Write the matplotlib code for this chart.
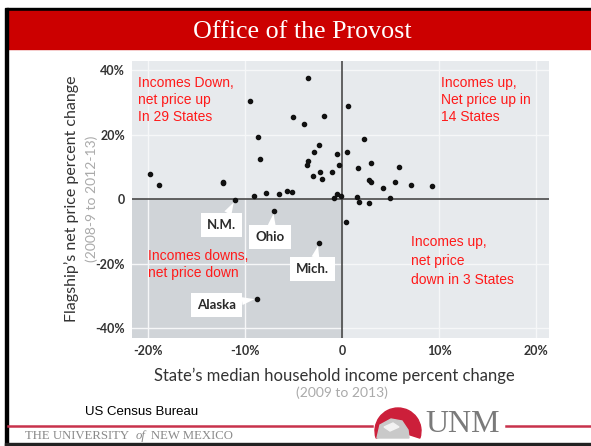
import matplotlib.pyplot as plt
from matplotlib.patches import Rectangle, Wedge, Polygon

# state income change (%) vs flagship net price change (%)
income_change = [-19.7, -18.8, -12.2, -12.2, -9.5, -9.1, -8.6, -8.4, -7.8, -6.5,
                 -5.7, -5.1, -5.0, -3.9, -3.5, -2.9, -2.4, -3.5, -3.6, -2.3,
                 -3.0, -2.1, -1.8, -1.0, -0.5, -0.3, -0.8, -0.5, -0.1, 0.5,
                 0.6, 1.7, 1.5, 1.8, 2.3, 3.0, 2.8, 3.0, 2.8, 4.2,
                 4.9, 5.5, 5.9, 7.1, 9.3, 0.4]
price_change = [7.8, 4.2, 5.4, 4.9, 30.5, 0.9, 19.3, 12.3, 1.8, 1.5,
                2.4, 2.3, 25.5, 23.4, 37.6, 14.5, 16.8, 11.9, 10.6, 8.5,
                7.2, 6.2, 25.7, 8.4, 13.9, 10.4, 0.4, 1.5, 0.9, 14.6,
                28.9, 9.7, 0.7, -0.8, 18.7, 11.2, 5.8, 5.2, -1.1, 3.5,
                0.2, 5.2, 9.8, 4.3, 3.9, -7.2]

named_states = ["N.M.", "Ohio", "Mich.", "Alaska"]
named_income = [-11.0, -7.0, -2.4, -8.7]
named_price = [-0.3, -3.7, -13.7, -30.9]
named_box_x = [-12.4, -7.4, -3.0, -12.9]
named_box_y = [-8.1, -11.9, -21.8, -32.9]

x_ticks = [-20, -10, 0, 10, 20]
x_labels = ["-20%", "-10%", "0", "10%", "20%"]
y_ticks = [40, 20, 0, -20, -40]
y_labels = ["40%", "20%", "0", "-20%", "-40%"]

W, H = 591, 446
fig = plt.figure(figsize=(W / 100, H / 100), dpi=100)

# decoration layer in pixel coords
deco = fig.add_axes([0, 0, 1, 1])
deco.set_xlim(0, W)
deco.set_ylim(H, 0)
deco.axis("off")
deco.add_patch(Rectangle((7, 8), W - 7, 2.5, color="black"))
deco.add_patch(Rectangle((8, 10.5), W - 8, 38, color="#cc0000"))
deco.add_patch(Rectangle((5, 8), 2.5, H - 8, color="black"))
deco.add_patch(Rectangle((5, 443), W, 3, color="#222222"))
deco.text(302, 38, "Office of the Provost", color="white", ha="center", va="baseline",
          fontsize=18.7, family="Liberation Serif")

deco.plot([8, 372], [426, 426], color="#c8324c", lw=1.8)
deco.plot([506, W], [426, 426], color="#c8324c", lw=1.8)
deco.text(85, 412, "US Census Bureau", fontsize=9.5, family="Liberation Sans",
          va="center", ha="left", color="black")
deco.text(25, 436, "THE UNIVERSITY", fontsize=9.2, family="Liberation Serif",
          va="center", color="#8a8a8a")
deco.text(136, 436, "of", fontsize=9.2, family="Liberation Serif", style="italic",
          va="center", color="#8a8a8a")
deco.text(151, 436, "NEW MEXICO", fontsize=9.2, family="Liberation Serif",
          va="center", color="#8a8a8a")
# UNM logo
deco.add_patch(Wedge((398, 431), 23, 162, 378, color="#cc1f3a"))
deco.add_patch(Polygon([[377, 438], [380, 425], [391, 419], [402, 421], [408, 430], [409, 438]],
                       color="#c9c9c9"))
deco.add_patch(Polygon([[384, 427], [393, 423], [399, 427], [390, 431]], color="#f2f2f2"))
deco.text(425, 424, "UNM", fontsize=23, family="Liberation Serif", va="center",
          color="#7a7a7a")

ax = fig.add_axes([132 / W, 1 - 338 / H, (549 - 132) / W, (338 - 61) / H])
ax.set_facecolor("#e7eaed")
ax.set_xlim(-21.6, 21.3)
ax.set_ylim(-43.1, 42.8)
ax.add_patch(Rectangle((-21.6, -43.1), 21.6, 43.1, color="#d0d4d8", zorder=0))
for t in [-20, -10, 10, 20]:
    ax.axvline(t, color="#f6f7f8", lw=1, zorder=1)
for t in [40, 20, -20, -40]:
    ax.axhline(t, color="#f6f7f8", lw=1, zorder=1)
ax.axhline(0, color="#4a4a4a", lw=1.2, zorder=2)
ax.axvline(0, color="#4a4a4a", lw=1.2, zorder=2)
for s in ax.spines.values():
    s.set_visible(False)

ax.scatter(income_change + named_income, price_change + named_price, s=9,
           color="#111111", zorder=4)

for name, px, py, bx, by in zip(named_states, named_income, named_price,
                                named_box_x, named_box_y):
    ax.annotate(name, xy=(px, py), xytext=(bx, by), ha="center", va="center",
                fontsize=9.5, family="Lato", weight="bold", color="#2a2a2a", zorder=5,
                bbox=dict(boxstyle="square,pad=0.45", fc="white", ec="none"),
                arrowprops=dict(arrowstyle="wedge,tail_width=0.6,shrink_factor=0.5",
                                fc="white", ec="none", shrinkA=0, shrinkB=2))

red_kw = dict(color="#ff1a1a", fontsize=10, family="Liberation Sans", va="top",
              ha="left", linespacing=1.25, zorder=5)
ax.text(-21.0, 38.0, "Incomes Down,\nnet price up\nIn 29 States", **red_kw)
ax.text(10.2, 38.0, "Incomes up,\nNet price up in\n14 States", **red_kw)
ax.text(-20.0, -15.5, "Incomes downs,\nnet price down", **red_kw)
ax.text(7.1, -11.2, "Incomes up,\nnet price\ndown in 3 States",
        **dict(red_kw, linespacing=1.45))

ax.set_xticks(x_ticks)
ax.set_xticklabels(x_labels)
ax.set_yticks(y_ticks)
ax.set_yticklabels(y_labels)
ax.tick_params(length=0, pad=5, labelsize=9, labelcolor="#333333")
for lab in ax.get_xticklabels() + ax.get_yticklabels():
    lab.set_family("Lato")
    lab.set_weight("bold")

deco.text(334, 376, "State\u2019s median household income percent change", ha="center",
          va="center", fontsize=12, family="Lato", color="#333333")
deco.text(342, 393, "(2009 to 2013)", ha="center", va="center", fontsize=10,
          family="Lato", color="#aaaaaa")
deco.text(72, 199, "Flagship\u2019s net price percent change", ha="center", va="center",
          rotation=90, fontsize=11.5, family="Lato", color="#333333")
deco.text(92, 199, "(2008-9 to 2012-13)", ha="center", va="center", rotation=90,
          fontsize=10, family="Lato", color="#aaaaaa")

fig.savefig("out.png", dpi=100)
